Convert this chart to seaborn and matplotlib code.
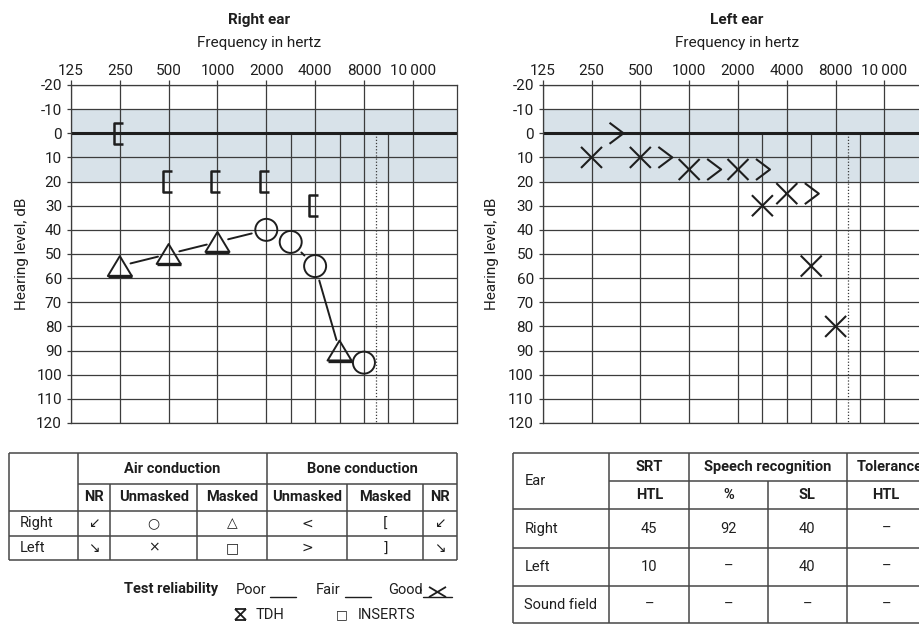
import numpy as np
import pandas as pd
import matplotlib
matplotlib.use("Agg")
import matplotlib.pyplot as plt
from matplotlib.path import Path
from matplotlib.markers import MarkerStyle
import seaborn as sns

sns.set_theme(style="white")
plt.rcParams["font.family"] = ["Roboto", "DejaVu Sans"]
plt.rcParams["axes.unicode_minus"] = False

# --- data ---
freq_ticks = [125, 250, 500, 1000, 2000, 4000, 8000, 10000]
freq_tick_labels = ["125", "250", "500", "1000", "2000", "4000", "8000", "10\u2009000"]
db_ticks = list(range(-20, 121, 10))

# right ear
right_masked_air_freq = [250, 500, 1000, 6000]
right_masked_air_db = [55, 50, 45, 90]
right_unmasked_air_freq = [2000, 3000, 4000, 8000]
right_unmasked_air_db = [40, 45, 55, 95]
right_masked_bone_freq = [250, 500, 1000, 2000, 4000]
right_masked_bone_db = [0, 20, 20, 20, 30]
right_connected_freq = [250, 500, 1000, 2000, 3000, 4000, 6000]
right_connected_db = [55, 50, 45, 40, 45, 55, 90]
right_connected_symbol = ["tri", "tri", "tri", "circ", "circ", "circ", "tri"]

# left ear
left_unmasked_air_freq = [250, 500, 1000, 2000, 3000, 4000, 6000, 8000]
left_unmasked_air_db = [10, 10, 15, 15, 30, 25, 55, 80]
left_unmasked_bone_freq = [250, 500, 1000, 2000, 4000]
left_unmasked_bone_db = [0, 10, 15, 15, 25]

# symbol key table
key_air_header = "Air conduction"
key_bone_header = "Bone conduction"
key_sub_headers = ["NR", "Unmasked", "Masked", "Unmasked", "Masked", "NR"]
key_rows = ["Right", "Left"]
key_symbols = [["\u2199", "\u25cb", "\u25b3", "<", "[", "\u2199"],
               ["\u2198", "\u00d7", "\u25a1", ">", "]", "\u2198"]]

# speech table
speech_rows = ["Right", "Left", "Sound field"]
speech_srt = ["45", "10", "\u2013"]
speech_pct = ["92", "\u2013", "\u2013"]
speech_sl = ["40", "40", "\u2013"]
speech_tol = ["\u2013", "\u2013", "\u2013"]

# audiogram column layout (octave steps, half-octaves in between)
SLOT = {125: 0, 250: 1, 500: 2, 1000: 3, 2000: 4, 3000: 4.5, 4000: 5,
        6000: 5.5, 8000: 6, 10000: 7}

W, H = 919, 625
DPI = 100
SHADE = "#d8e2e9"
GRID = "#3c3c3c"
INK = "#1e1e1e"
FS = 11
FS_TAB = 10.5

fig = plt.figure(figsize=(W / DPI, H / DPI), dpi=DPI)
fig.patch.set_facecolor("white")

# overlay in pixel coordinates for titles and tables
ov = fig.add_axes([0, 0, 1, 1], zorder=-1)
ov.set_xlim(0, W)
ov.set_ylim(H, 0)
ov.axis("off")


def px_axes(left, top, right, bottom):
    return fig.add_axes([left / W, 1 - bottom / H, (right - left) / W, (bottom - top) / H])


def path_marker(verts, codes=None):
    return MarkerStyle(Path(np.array(verts, float), codes))


M, L = Path.MOVETO, Path.LINETO
tri_marker = path_marker([(0, 0.83), (-1, -0.83), (1, -0.83), (0, 0.83)], [M, L, L, Path.CLOSEPOLY])
tri_base = path_marker([(-1, -0.83), (1, -0.83), (0, 0.83)], [M, L, M])
lbr_marker = path_marker([(3, 10.5), (-6, 10.5), (-6, -10.5), (3, -10.5)], [M, L, L, L])
gt_marker = path_marker([(18, 10.5), (32, 0), (18, -10.5)], [M, L, L])
x_marker = path_marker([(-1, -1), (1, 1), (-1, 1), (1, -1)], [M, L, M, L])


def setup_audiogram(ax):
    ax.set_xlim(0, 7.9)
    ax.set_ylim(120, -20)
    ax.set_facecolor("white")
    ax.axhspan(-10, 20, color=SHADE, lw=0, zorder=0)
    for y in db_ticks:
        if y != 0:
            ax.axhline(y, color=GRID, lw=0.9, zorder=1)
    ax.axhline(0, color=INK, lw=2.2, zorder=2)
    for f in freq_ticks:
        ax.axvline(SLOT[f], color=GRID, lw=0.9, zorder=1)
    ax.vlines([4.5, 5.5, 6.5], 0, 120, color=GRID, lw=0.9, zorder=1)
    ax.vlines([6.25], 0, 120, color=GRID, lw=0.9, ls=(0, (1, 1.5)), zorder=1)
    for s in ax.spines.values():
        s.set_color(GRID)
        s.set_linewidth(0.9)
    ax.xaxis.tick_top()
    ax.set_xticks([SLOT[f] for f in freq_ticks])
    ax.set_xticklabels(freq_tick_labels)
    ax.set_yticks(db_ticks)
    ax.set_yticklabels([str(v) for v in db_ticks])
    ax.tick_params(axis="x", top=True, bottom=False, length=3.6, width=0.9,
                   pad=1.5, labelsize=FS, color=GRID, labelcolor=INK)
    ax.tick_params(axis="y", left=True, length=3.2, width=0.9, pad=3.2,
                   labelsize=FS, color=GRID, labelcolor=INK)


def scatter(ax, freqs, dbs, marker, size_px, lw=1.4):
    df = pd.DataFrame({"x": [SLOT[f] for f in freqs], "y": dbs})
    sns.scatterplot(data=df, x="x", y="y", ax=ax, marker=marker,
                    s=(size_px * 72 / DPI) ** 2, facecolor="none",
                    edgecolor=INK, linewidth=lw, zorder=6, legend=False)


def connect(ax, freqs, dbs, symbols):
    gaps = {"tri": 11, "circ": 15}
    pts = ax.transData.transform(np.column_stack([[SLOT[f] for f in freqs], dbs]))
    inv = ax.transData.inverted()
    rows = []
    for i in range(len(pts) - 1):
        p0, p1 = pts[i], pts[i + 1]
        d = p1 - p0
        n = np.hypot(*d)
        g0, g1 = gaps[symbols[i]], gaps[symbols[i + 1]]
        if n <= g0 + g1 + 2:
            continue
        u = d / n
        a, b = inv.transform([p0 + u * g0, p1 - u * g1])
        rows += [(i, a[0], a[1]), (i, b[0], b[1])]
    seg = pd.DataFrame(rows, columns=["seg", "x", "y"])
    sns.lineplot(data=seg, x="x", y="y", units="seg", estimator=None, sort=False,
                 color=INK, lw=1.4, ax=ax, zorder=5, legend=False)


# --- right ear ---
axr = px_axes(71, 85, 456.7, 423)
setup_audiogram(axr)
connect(axr, right_connected_freq, right_connected_db, right_connected_symbol)
scatter(axr, right_masked_air_freq, right_masked_air_db, tri_marker, 24)
scatter(axr, right_masked_air_freq, right_masked_air_db, tri_base, 24, lw=2.4)
scatter(axr, right_unmasked_air_freq, right_unmasked_air_db, "o", 22)
scatter(axr, right_masked_bone_freq, right_masked_bone_db, lbr_marker, 21, lw=1.8)

# --- left ear ---
axl = px_axes(542.7, 85, 928.4, 423)
setup_audiogram(axl)
scatter(axl, left_unmasked_air_freq, left_unmasked_air_db, x_marker, 21, lw=1.5)
scatter(axl, left_unmasked_bone_freq, left_unmasked_bone_db, gt_marker, 64, lw=1.5)

for ax in (axr, axl):
    ax.set_xlim(0, 7.9)
    ax.set_ylim(120, -20)
    ax.set_xlabel("")
    ax.set_ylabel("")

# titles
txt = dict(color=INK, fontsize=FS)
for cx, name, ylx in [(259, "Right ear", 22), (736.7, "Left ear", 492)]:
    ov.text(cx, 24, name, ha="center", va="baseline", fontweight="bold", **txt)
    ov.text(cx, 46.5, "Frequency in hertz", ha="center", va="baseline", **txt)
    ov.text(ylx, 254, "Hearing level, dB", ha="center", va="center", rotation=90, **txt)

# --- symbol key table ---
tt = dict(color=INK, fontsize=FS_TAB)
LC = "#474747"
kx = [9.3, 77.7, 110.3, 197.3, 267.3, 346.7, 423.3, 456.7]
ky = [453.3, 484, 510.7, 535.7, 560]
ov.hlines([ky[0], ky[2], ky[3], ky[4]], kx[0], kx[-1], color=LC, lw=1.1)
ov.hlines([ky[1]], kx[1], kx[-1], color=LC, lw=1.1)
ov.vlines([kx[0], kx[1], kx[4], kx[-1]], ky[0], ky[-1], color=LC, lw=1.1)
ov.vlines([kx[2], kx[3], kx[5], kx[6]], ky[1], ky[-1], color=LC, lw=1.1)
ov.text((kx[1] + kx[4]) / 2, (ky[0] + ky[1]) / 2, key_air_header, ha="center",
        va="center", fontweight="bold", **tt)
ov.text((kx[4] + kx[7]) / 2, (ky[0] + ky[1]) / 2, key_bone_header, ha="center",
        va="center", fontweight="bold", **tt)
for j, h in enumerate(key_sub_headers):
    ov.text((kx[j + 1] + kx[j + 2]) / 2, (ky[1] + ky[2]) / 2, h, ha="center",
            va="center", fontweight="bold", **tt)
for i, r in enumerate(key_rows):
    yc = (ky[i + 2] + ky[i + 3]) / 2
    ov.text(20, yc, r, ha="left", va="center", **tt)
    for j, sym in enumerate(key_symbols[i]):
        ov.text((kx[j + 1] + kx[j + 2]) / 2, yc, sym, ha="center", va="center",
                color=INK, fontsize=10, family=["DejaVu Sans"])

# reliability line
ov.text(124, 593.5, "Test reliability", ha="left", va="baseline", fontweight="bold", **tt)
ov.text(236, 593.5, "Poor", ha="left", va="baseline", **tt)
ov.text(316, 593.5, "Fair", ha="left", va="baseline", **tt)
ov.text(388, 593.5, "Good", ha="left", va="baseline", **tt)
for x0, x1 in [(269.5, 296), (345, 371), (423, 452)]:
    ov.plot([x0, x1], [596.5, 596.5], color=INK, lw=1)
good_x = path_marker([(-1, -0.6), (1, 0.6), (-1, 0.6), (1, -0.6)], [M, L, M, L])
ov.scatter([437.5], [592], marker=good_x, s=(17 * 72 / DPI) ** 2,
           facecolor="none", edgecolor=INK, linewidths=1.3)
tdh_marker = path_marker([(-1, -1), (1, 1), (-1, 1), (1, -1), (-1, 1), (1, 1), (-1, -1), (1, -1)],
                         [M, L, M, L, M, L, M, L])
ov.scatter([240.5], [614.5], marker=tdh_marker, s=(11 * 72 / DPI) ** 2,
           facecolor="none", edgecolor=INK, linewidths=1.3)
ov.text(256, 619, "TDH", ha="left", va="baseline", **tt)
ov.text(342, 615, "\u25a1", ha="center", va="center", color=INK, fontsize=9,
        family=["DejaVu Sans"])
ov.text(358, 619, "INSERTS", ha="left", va="baseline", **tt)

# --- speech table ---
sx = [513.3, 609.3, 689.3, 767.7, 846.7, 925.7]
sy = [452.7, 481, 509.3, 548, 586, 623.3]
ov.hlines([sy[0], sy[2], sy[3], sy[4], sy[5]], sx[0], sx[-1], color=LC, lw=1.1)
ov.hlines([sy[1]], sx[1], sx[-1], color=LC, lw=1.1)
ov.vlines([sx[0], sx[1], sx[2], sx[4]], sy[0], sy[-1], color=LC, lw=1.1)
ov.vlines([sx[3]], sy[1], sy[-1], color=LC, lw=1.1)
ov.text(524.3, sy[1], "Ear", ha="left", va="center", **tt)
y1, y2 = (sy[0] + sy[1]) / 2, (sy[1] + sy[2]) / 2
ov.text((sx[1] + sx[2]) / 2, y1, "SRT", ha="center", va="center", fontweight="bold", **tt)
ov.text((sx[2] + sx[4]) / 2, y1, "Speech recognition", ha="center", va="center",
        fontweight="bold", **tt)
ov.text(856.7, y1, "Tolerance", ha="left", va="center", fontweight="bold", **tt)
for j, h in enumerate(["HTL", "%", "SL", "HTL"]):
    ov.text((sx[j + 1] + sx[j + 2]) / 2, y2, h, ha="center", va="center",
            fontweight="bold", **tt)
for i, r in enumerate(speech_rows):
    yc = (sy[i + 2] + sy[i + 3]) / 2
    ov.text(524.3, yc, r, ha="left", va="center", **tt)
    for j, v in enumerate([speech_srt[i], speech_pct[i], speech_sl[i], speech_tol[i]]):
        ov.text((sx[j + 1] + sx[j + 2]) / 2, yc, v, ha="center", va="center", **tt)

fig.savefig("out.png", dpi=DPI)
